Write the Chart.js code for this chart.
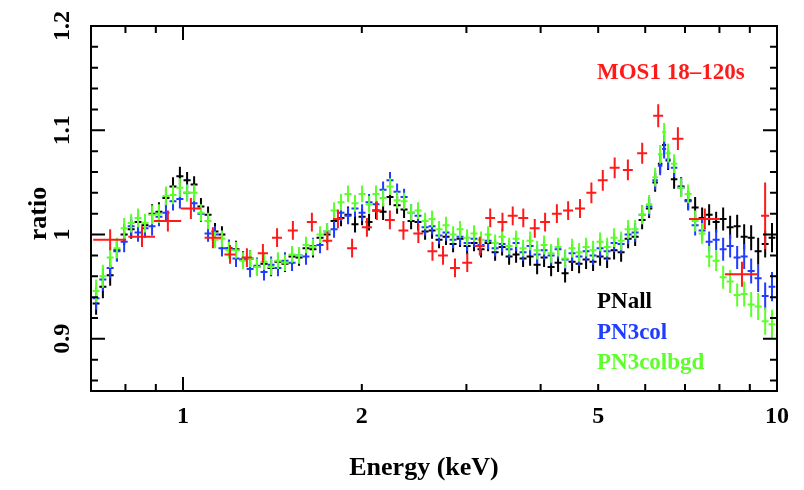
<!DOCTYPE html>
<html>
<head>
<meta charset="utf-8">
<script src="https://cdn.jsdelivr.net/npm/chart.js@4/dist/chart.umd.min.js"></script>
<style>
  html, body { margin: 0; padding: 0; background: #ffffff; }
  #wrap { width: 804px; height: 490px; }
</style>
</head>
<body>
<div id="wrap"><canvas id="c" width="804" height="490"></canvas></div>
<script>
// ---------------- DATA ----------------
// Shared PN energy grid (keV)
const pnEnergy = [0.714,0.733,0.754,0.774,0.796,0.818,0.840,0.863,0.887,0.911,
  0.936,0.962,0.988,1.016,1.044,1.072,1.102,1.132,1.163,1.195,
  1.228,1.262,1.297,1.332,1.369,1.407,1.445,1.485,1.526,1.568,
  1.611,1.655,1.701,1.748,1.796,1.845,1.896,1.948,2.002,2.057,
  2.113,2.172,2.231,2.293,2.356,2.421,2.487,2.556,2.626,2.698,
  2.772,2.849,2.927,3.008,3.090,3.175,3.263,3.353,3.445,3.540,
  3.637,3.737,3.840,3.946,4.054,4.166,4.280,4.398,4.519,4.643,
  4.771,4.902,5.037,5.176,5.318,5.465,5.615,5.770,5.928,6.091,
  6.235,6.357,6.456,6.557,6.711,6.896,7.086,7.281,7.481,7.687,
  7.899,8.116,8.339,8.569,8.805,9.047,9.296,9.552,9.808];

// PN ratio uncertainty (shared)
const pnRatioErr = [0.011,0.011,0.010,0.010,0.010,0.009,0.009,0.009,0.009,0.009,
  0.009,0.009,0.009,0.008,0.008,0.008,0.008,0.008,0.008,0.008,
  0.008,0.008,0.008,0.008,0.008,0.008,0.008,0.008,0.008,0.008,
  0.008,0.008,0.008,0.008,0.008,0.008,0.008,0.008,0.008,0.008,
  0.008,0.008,0.008,0.008,0.008,0.008,0.008,0.008,0.008,0.008,
  0.008,0.008,0.008,0.008,0.008,0.008,0.008,0.008,0.008,0.008,
  0.008,0.008,0.009,0.009,0.009,0.009,0.009,0.009,0.009,0.009,
  0.009,0.009,0.009,0.009,0.009,0.009,0.009,0.009,0.009,0.009,
  0.009,0.009,0.009,0.009,0.009,0.009,0.009,0.010,0.010,0.010,
  0.010,0.011,0.011,0.011,0.012,0.012,0.013,0.013,0.014];

const pnAll = [0.934,0.950,0.961,0.985,1.000,1.005,1.012,1.009,1.020,1.022,
  1.035,1.046,1.056,1.052,1.048,1.027,1.019,1.003,1.000,0.987,
  0.986,0.976,0.977,0.969,0.972,0.968,0.974,0.972,0.979,0.978,
  0.987,0.986,0.997,1.000,1.013,1.016,1.019,1.010,1.017,1.012,
  1.023,1.022,1.036,1.028,1.024,1.013,1.012,1.003,1.004,0.995,
  0.998,0.991,0.996,0.989,0.992,0.986,0.992,0.983,0.988,0.979,
  0.981,0.977,0.979,0.971,0.978,0.969,0.973,0.963,0.974,0.972,
  0.976,0.974,0.979,0.977,0.985,0.983,0.996,0.998,1.014,1.025,
  1.050,1.068,1.086,1.071,1.053,1.046,1.033,1.026,1.016,1.019,
  1.012,1.015,1.007,1.008,0.998,0.997,0.984,0.991,0.997];

const pn3col = [0.939,0.957,0.968,0.984,0.993,1.008,1.002,1.006,1.008,1.017,
  1.021,1.032,1.034,1.040,1.030,1.020,1.001,1.000,0.987,0.987,
  0.977,0.976,0.967,0.970,0.964,0.971,0.968,0.975,0.973,0.980,
  0.979,0.989,0.990,1.003,1.005,1.021,1.018,1.025,1.021,1.031,
  1.029,1.043,1.052,1.041,1.036,1.021,1.018,1.007,1.008,0.999,
  1.002,0.995,0.998,0.992,0.996,0.990,0.994,0.987,0.991,0.986,
  0.992,0.983,0.989,0.981,0.985,0.980,0.986,0.976,0.982,0.979,
  0.984,0.980,0.987,0.984,0.992,0.991,1.000,1.002,1.019,1.027,
  1.052,1.066,1.082,1.072,1.064,1.045,1.032,1.009,1.004,0.993,
  0.995,0.986,0.989,0.978,0.979,0.965,0.958,0.941,0.950];

const pn3colbgd = [0.946,0.960,0.978,0.987,1.006,1.011,1.016,1.011,1.019,1.020,
  1.037,1.038,1.045,1.040,1.040,1.021,1.013,0.995,0.996,0.985,
  0.985,0.975,0.977,0.969,0.974,0.969,0.975,0.973,0.981,0.980,
  0.990,0.988,1.000,1.003,1.023,1.031,1.039,1.030,1.039,1.029,
  1.039,1.035,1.046,1.033,1.032,1.021,1.023,1.013,1.015,1.005,
  1.009,1.000,1.005,0.997,1.001,0.995,1.000,0.992,0.998,0.989,
  0.996,0.987,0.994,0.985,0.990,0.982,0.988,0.977,0.987,0.983,
  0.988,0.985,0.993,0.988,0.997,0.994,1.005,1.005,1.019,1.029,
  1.055,1.077,1.098,1.078,1.068,1.045,1.039,1.013,1.001,0.979,
  0.975,0.959,0.955,0.942,0.943,0.933,0.931,0.917,0.914];

// MOS1 18-120s
const mosEnergy = [0.754,0.853,0.943,1.031,1.123,1.200,1.281,1.363,1.440,1.531,
  1.648,1.750,1.823,1.926,2.040,2.120,2.230,2.350,2.490,2.630,
  2.740,2.870,3.010,3.160,3.290,3.450,3.590,3.740,3.910,4.070,
  4.260,4.450,4.660,4.870,5.090,5.330,5.610,5.930,6.310,6.810,
  7.560,8.730,9.550];
const mosEnergyErr = [0.048,0.044,0.050,0.040,0.036,0.026,0.026,0.027,0.028,0.030,
  0.032,0.033,0.035,0.037,0.040,0.040,0.043,0.045,0.048,0.050,
  0.052,0.055,0.058,0.060,0.063,0.066,0.069,0.072,0.075,0.078,
  0.082,0.086,0.090,0.094,0.098,0.103,0.108,0.115,0.122,0.150,
  0.450,0.560,0.150];
const mosRatio = [0.995,0.998,1.013,1.025,0.997,0.981,0.978,0.982,0.997,1.004,
  1.012,0.994,1.015,0.987,1.007,1.023,1.014,1.004,1.001,0.984,
  0.980,0.968,0.973,0.989,1.016,1.012,1.018,1.016,1.006,1.012,
  1.020,1.023,1.025,1.040,1.052,1.064,1.062,1.078,1.114,1.092,
  1.015,0.962,1.018];
const mosRatioErr = [0.010,0.010,0.010,0.010,0.010,0.009,0.009,0.009,0.009,0.009,
  0.009,0.009,0.009,0.009,0.009,0.009,0.009,0.009,0.009,0.009,
  0.009,0.009,0.009,0.009,0.009,0.009,0.009,0.009,0.009,0.009,
  0.009,0.009,0.009,0.010,0.010,0.010,0.010,0.010,0.011,0.011,
  0.010,0.012,0.032];

// Axis ticks
const xLabelTicks = [1, 2, 5, 10];
const xMajorTicks = [1, 10];
const xMinorTicks = [0.8, 0.9, 2, 3, 4, 5, 6, 7, 8, 9];
const yLabelTicks = [0.9, 1, 1.1, 1.2];
const yMinorTicks = [0.86,0.88,0.92,0.94,0.96,0.98,1.02,1.04,1.06,1.08,1.12,1.14,1.16,1.18];

const seriesNames = ['PNall', 'PN3col', 'PN3colbgd', 'MOS1 18\u2013120s'];
const xTitle = 'Energy (keV)';
const yTitle = 'ratio';

// ---------------- BUILD ----------------
const COLORS = { black: '#000000', blue: '#1f3cff', green: '#5cff2a', red: '#ff1a1a' };

function halfBin(arr, i) {
  const lo = i > 0 ? arr[i - 1] : arr[i] - (arr[i + 1] - arr[i]);
  const hi = i < arr.length - 1 ? arr[i + 1] : arr[i] + (arr[i] - arr[i - 1]);
  return (hi - lo) / 4;
}
function pnPoints(vals) {
  return pnEnergy.map((e, i) => ({ x: e, y: vals[i], xe: halfBin(pnEnergy, i), ye: pnRatioErr[i] }));
}
const mosPoints = mosEnergy.map((e, i) => ({ x: e, y: mosRatio[i], xe: mosEnergyErr[i], ye: mosRatioErr[i] }));

const SERIF = '"Liberation Serif", "DejaVu Serif", serif';

const crossPlugin = {
  id: 'crosses',
  afterDatasetsDraw(chart) {
    const ctx = chart.ctx, xs = chart.scales.x, ys = chart.scales.y, a = chart.chartArea;
    ctx.save();
    ctx.beginPath(); ctx.rect(a.left, a.top, a.right - a.left, a.bottom - a.top); ctx.clip();
    chart.data.datasets.forEach(ds => {
      ctx.strokeStyle = ds.borderColor;
      ctx.lineWidth = 2;
      ds.data.forEach(p => {
        const xc = xs.getPixelForValue(p.x), yc = ys.getPixelForValue(p.y);
        const x0 = xs.getPixelForValue(p.x - p.xe), x1 = xs.getPixelForValue(p.x + p.xe);
        const y0 = ys.getPixelForValue(p.y - p.ye), y1 = ys.getPixelForValue(p.y + p.ye);
        ctx.beginPath();
        ctx.moveTo(x0, yc); ctx.lineTo(x1, yc);
        ctx.moveTo(xc, y0); ctx.lineTo(xc, y1);
        ctx.stroke();
      });
    });
    ctx.restore();
  }
};

const framePlugin = {
  id: 'frame',
  afterDraw(chart) {
    const ctx = chart.ctx, xs = chart.scales.x, ys = chart.scales.y, a = chart.chartArea;
    ctx.save();
    ctx.strokeStyle = '#000'; ctx.lineWidth = 2;
    ctx.strokeRect(a.left, a.top, a.right - a.left, a.bottom - a.top);
    ctx.beginPath();
    const MAJ = 14, MIN = 7;
    xMajorTicks.forEach(v => { const x = xs.getPixelForValue(v);
      ctx.moveTo(x, a.bottom); ctx.lineTo(x, a.bottom - MAJ); ctx.moveTo(x, a.top); ctx.lineTo(x, a.top + MAJ); });
    xMinorTicks.forEach(v => { const x = xs.getPixelForValue(v);
      ctx.moveTo(x, a.bottom); ctx.lineTo(x, a.bottom - MIN); ctx.moveTo(x, a.top); ctx.lineTo(x, a.top + MIN); });
    yLabelTicks.forEach(v => { const y = ys.getPixelForValue(v);
      ctx.moveTo(a.left, y); ctx.lineTo(a.left + MAJ, y); ctx.moveTo(a.right, y); ctx.lineTo(a.right - MAJ, y); });
    yMinorTicks.forEach(v => { const y = ys.getPixelForValue(v);
      ctx.moveTo(a.left, y); ctx.lineTo(a.left + MIN, y); ctx.moveTo(a.right, y); ctx.lineTo(a.right - MIN, y); });
    ctx.stroke();

    // tick labels
    ctx.fillStyle = '#000';
    ctx.font = 'bold 24px ' + SERIF;
    ctx.textAlign = 'center'; ctx.textBaseline = 'middle';
    xLabelTicks.forEach(v => ctx.fillText(String(v), xs.getPixelForValue(v), a.bottom + 26));
    yLabelTicks.forEach(v => {
      const y = ys.getPixelForValue(v);
      ctx.save(); ctx.translate(a.left - 28, y); ctx.rotate(-Math.PI / 2);
      ctx.fillText(String(v), 0, 0); ctx.restore();
    });
    // axis titles
    ctx.font = 'bold 26px ' + SERIF;
    ctx.fillText(xTitle, (a.left + a.right) / 2 - 10, a.bottom + 77);
    ctx.save(); ctx.translate(a.left - 52, (a.top + a.bottom) / 2 + 5); ctx.rotate(-Math.PI / 2);
    ctx.fillText(yTitle, 0, 0); ctx.restore();

    // series labels
    ctx.font = 'bold 23px ' + SERIF;
    ctx.textAlign = 'left'; ctx.textBaseline = 'alphabetic';
    ctx.fillStyle = COLORS.red;   ctx.fillText(seriesNames[3], 597, 79);
    ctx.fillStyle = COLORS.black; ctx.fillText(seriesNames[0], 597, 308);
    ctx.fillStyle = COLORS.blue;  ctx.fillText(seriesNames[1], 597, 339);
    ctx.fillStyle = COLORS.green; ctx.fillText(seriesNames[2], 597, 369);
    ctx.restore();
  }
};

new Chart(document.getElementById('c'), {
  type: 'scatter',
  data: {
    datasets: [
      { label: seriesNames[0], data: pnPoints(pnAll), borderColor: COLORS.black, backgroundColor: COLORS.black, pointRadius: 0, showLine: false },
      { label: seriesNames[1], data: pnPoints(pn3col), borderColor: COLORS.blue, backgroundColor: COLORS.blue, pointRadius: 0, showLine: false },
      { label: seriesNames[2], data: pnPoints(pn3colbgd), borderColor: COLORS.green, backgroundColor: COLORS.green, pointRadius: 0, showLine: false },
      { label: seriesNames[3], data: mosPoints, borderColor: COLORS.red, backgroundColor: COLORS.red, pointRadius: 0, showLine: false }
    ]
  },
  options: {
    responsive: false,
    animation: false,
    layout: { padding: { left: 91, right: 27, top: 26, bottom: 99 } },
    plugins: { legend: { display: false }, tooltip: { enabled: false } },
    scales: {
      x: { type: 'logarithmic', min: 0.7, max: 10, display: false },
      y: { type: 'linear', min: 0.85, max: 1.2, display: false }
    }
  },
  plugins: [crossPlugin, framePlugin]
});
</script>
</body>
</html>
